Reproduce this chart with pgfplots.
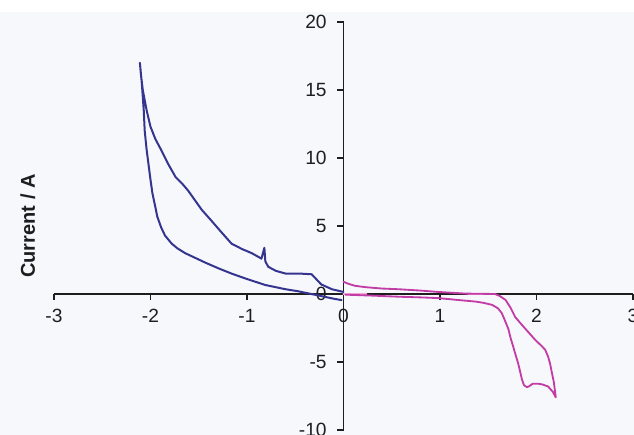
\documentclass[border=0pt]{standalone}
\usepackage{pgfplots}
\pgfplotsset{compat=1.18}
\usepackage{fontspec}
\setmainfont{Liberation Sans}
\definecolor{bgcol}{HTML}{F7F8FC}
\definecolor{cvblue}{HTML}{35358F}
\definecolor{cvmag}{HTML}{C23CA6}
\definecolor{cvpink}{HTML}{F2A6D8}
\definecolor{axcol}{HTML}{1E1E1E}

\begin{document}
\begin{tikzpicture}
% page background (1px = 0.6pt)
\fill[bgcol] (0,0) rectangle (380.4pt,253.8pt);
\begin{axis}[
    at={(32.4pt,3pt)}, anchor=south west,
    scale only axis,
    width=347.4pt, height=244.8pt,
    xmin=-3, xmax=3, ymin=-10, ymax=20,
    axis lines=middle,
    axis line style={axcol, line width=0.9pt, -},
    tick style={axcol, line width=0.9pt},
    tick align=outside,
    major tick length=3.6pt,
    xtick={-3,-2,...,3},
    ytick={-10,-5,...,20},
    hide obscured x ticks=false,
    hide obscured y ticks=false,
    ticklabel style={font=\fontsize{11.5}{13}\selectfont, text=axcol},
    /pgf/number format/assume math mode=true,
    xticklabel style={yshift=-2pt},
    yticklabel style={xshift=-3pt},
    ylabel={\textbf{Current / A}},
    ylabel style={at={(axis description cs:-0.045,0.5)}, anchor=center,
        rotate=90, font=\fontsize{12}{14}\selectfont, text=axcol},
    every axis plot/.append style={line join=round, line cap=round},
    clip=false,
]
% pink baseline and black segment on the x axis
\addplot[cvpink, line width=1.3pt] coordinates {(0,0) (1.57,0)};
\addplot[axcol, line width=1.3pt] coordinates {(0.25,0) (1.28,0)};

% blue scan (negative potentials)
\addplot[cvblue, line width=1.2pt] coordinates {
    (-0.02,-0.45) (-0.1,-0.35) (-0.2,-0.2) (-0.3,-0.05) (-0.47,0.2)
    (-0.6,0.35) (-0.81,0.66) (-1.0,1.1) (-1.16,1.5) (-1.3,1.9)
    (-1.43,2.3) (-1.55,2.7) (-1.64,3.0) (-1.72,3.35) (-1.78,3.7)
    (-1.85,4.3) (-1.89,4.9) (-1.93,5.7) (-1.95,6.4) (-1.98,7.4)
    (-2.0,8.4) (-2.02,9.5) (-2.04,10.6) (-2.06,12.0) (-2.07,13.5)
    (-2.09,15.5) (-2.11,17.0)
    (-2.10,16.2) (-2.08,15.0) (-2.04,13.5) (-2.0,12.3) (-1.95,11.4)
    (-1.89,10.6) (-1.82,9.6) (-1.74,8.6) (-1.67,8.1) (-1.61,7.6)
    (-1.54,6.9) (-1.47,6.2) (-1.37,5.4) (-1.26,4.5) (-1.16,3.7)
    (-1.05,3.3) (-0.95,3.0) (-0.85,2.6) (-0.82,3.4) (-0.81,2.4)
    (-0.78,2.0) (-0.7,1.7) (-0.6,1.5) (-0.45,1.5) (-0.33,1.45)
    (-0.27,1.0) (-0.23,0.7) (-0.12,0.35) (0,0.15)
};

% magenta scan (positive potentials)
\addplot[cvmag, line width=1.1pt] coordinates {
    (0,0.9) (0.05,0.75) (0.12,0.6) (0.23,0.5) (0.4,0.4) (0.57,0.35)
    (0.8,0.25) (0.98,0.15) (1.15,0.08) (1.26,0.03) (1.57,0)
    (1.62,-0.15) (1.68,-0.44) (1.73,-1.0) (1.78,-1.7) (1.84,-2.2)
    (1.89,-2.6) (1.94,-3.0) (1.99,-3.4) (2.05,-3.8) (2.09,-4.1)
    (2.12,-4.6) (2.14,-5.1) (2.16,-5.8) (2.18,-6.5) (2.2,-7.6)
    (2.17,-7.2) (2.12,-6.8) (2.06,-6.65) (2.02,-6.6) (1.96,-6.6)
    (1.92,-6.8) (1.9,-6.85) (1.87,-6.7) (1.85,-6.3) (1.83,-5.7)
    (1.81,-5.1) (1.78,-4.4) (1.76,-3.9) (1.73,-3.2) (1.71,-2.6)
    (1.67,-1.9) (1.64,-1.4) (1.6,-1.05) (1.54,-0.8) (1.45,-0.65)
    (1.37,-0.56) (1.2,-0.45) (0.98,-0.3) (0.8,-0.25) (0.57,-0.2)
    (0.3,-0.12) (0.02,-0.05)
};
\end{axis}
\pgfresetboundingbox
\path (0,0) rectangle (380.4pt,261pt);
\end{tikzpicture}
\end{document}
